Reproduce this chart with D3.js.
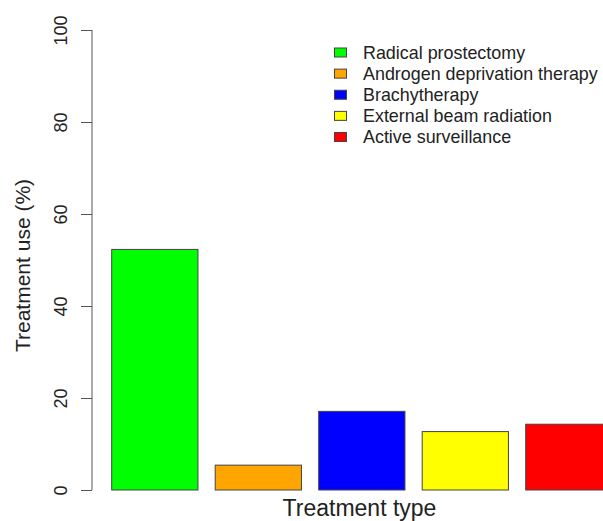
<!DOCTYPE html>
<html><head><meta charset="utf-8">
<script src="https://cdn.jsdelivr.net/npm/d3@7/dist/d3.min.js"></script>
<style>body{margin:0;background:#fff}svg{display:block}text{font-family:"Liberation Sans",Arial,sans-serif}</style>
</head><body>
<svg id="c" width="603" height="521"></svg>
<script>
const categories = ["Radical prostectomy","Androgen deprivation therapy","Brachytherapy","External beam radiation","Active surveillance"];
const values = [52.3, 5.4, 17.1, 12.7, 14.3];
const colors = ["#00ff00","#ffa500","#0000ff","#ffff00","#ff0000"];
const yTicks = [0,20,40,60,80,100];

const svg = d3.select("#c");
const y = d3.scaleLinear().domain([0,100]).range([490,30]);
// R barplot user coords: bar i spans [0.2+1.2i, 1.2+1.2i]
const xu = d3.scaleLinear().domain([0,6]).range([94.45, 94.45+86.25*6]);

svg.selectAll("rect.bar").data(values).join("rect")
  .attr("class","bar")
  .attr("x",(d,i)=>xu(0.2+1.2*i))
  .attr("width",(d,i)=>xu(1.2+1.2*i)-xu(0.2+1.2*i))
  .attr("y",d=>y(d))
  .attr("height",d=>y(0)-y(d))
  .attr("fill",(d,i)=>colors[i])
  .attr("stroke","#444").attr("stroke-width",1);

const ax = svg.append("g").attr("transform","translate(92,0)")
  .call(d3.axisLeft(y).tickValues(yTicks).tickSize(11).tickPadding(0).tickFormat(d3.format("d")));
ax.select(".domain").attr("stroke","#555").attr("d","M0,"+y(0)+"V"+y(100));
ax.selectAll(".tick line").attr("stroke","#555");
ax.selectAll(".tick text").attr("font-size",18).attr("fill","#222")
  .attr("text-anchor","middle").attr("dy",0).attr("x",0)
  .attr("transform","translate(-25,0) rotate(-90)").attr("y",0);

svg.append("text").attr("transform","translate(30,265.5) rotate(-90)")
  .attr("text-anchor","middle").attr("font-size",21).attr("fill","#222").text("Treatment use (%)");
svg.append("text").attr("x",359.5).attr("y",515.5)
  .attr("text-anchor","middle").attr("font-size",23).attr("fill","#222").text("Treatment type");

const lg = svg.append("g");
const ly = d3.scaleLinear().domain([0,4]).range([52.5,137]);
categories.forEach((c,i)=>{
  lg.append("rect").attr("x",334.5).attr("y",ly(i)-4.5).attr("width",12).attr("height",9)
    .attr("fill",colors[i]).attr("stroke","#444");
  lg.append("text").attr("x",363).attr("y",ly(i)).attr("dy","0.35em")
    .attr("font-size",17.9).attr("fill","#222").text(c);
});
</script>
</body></html>
